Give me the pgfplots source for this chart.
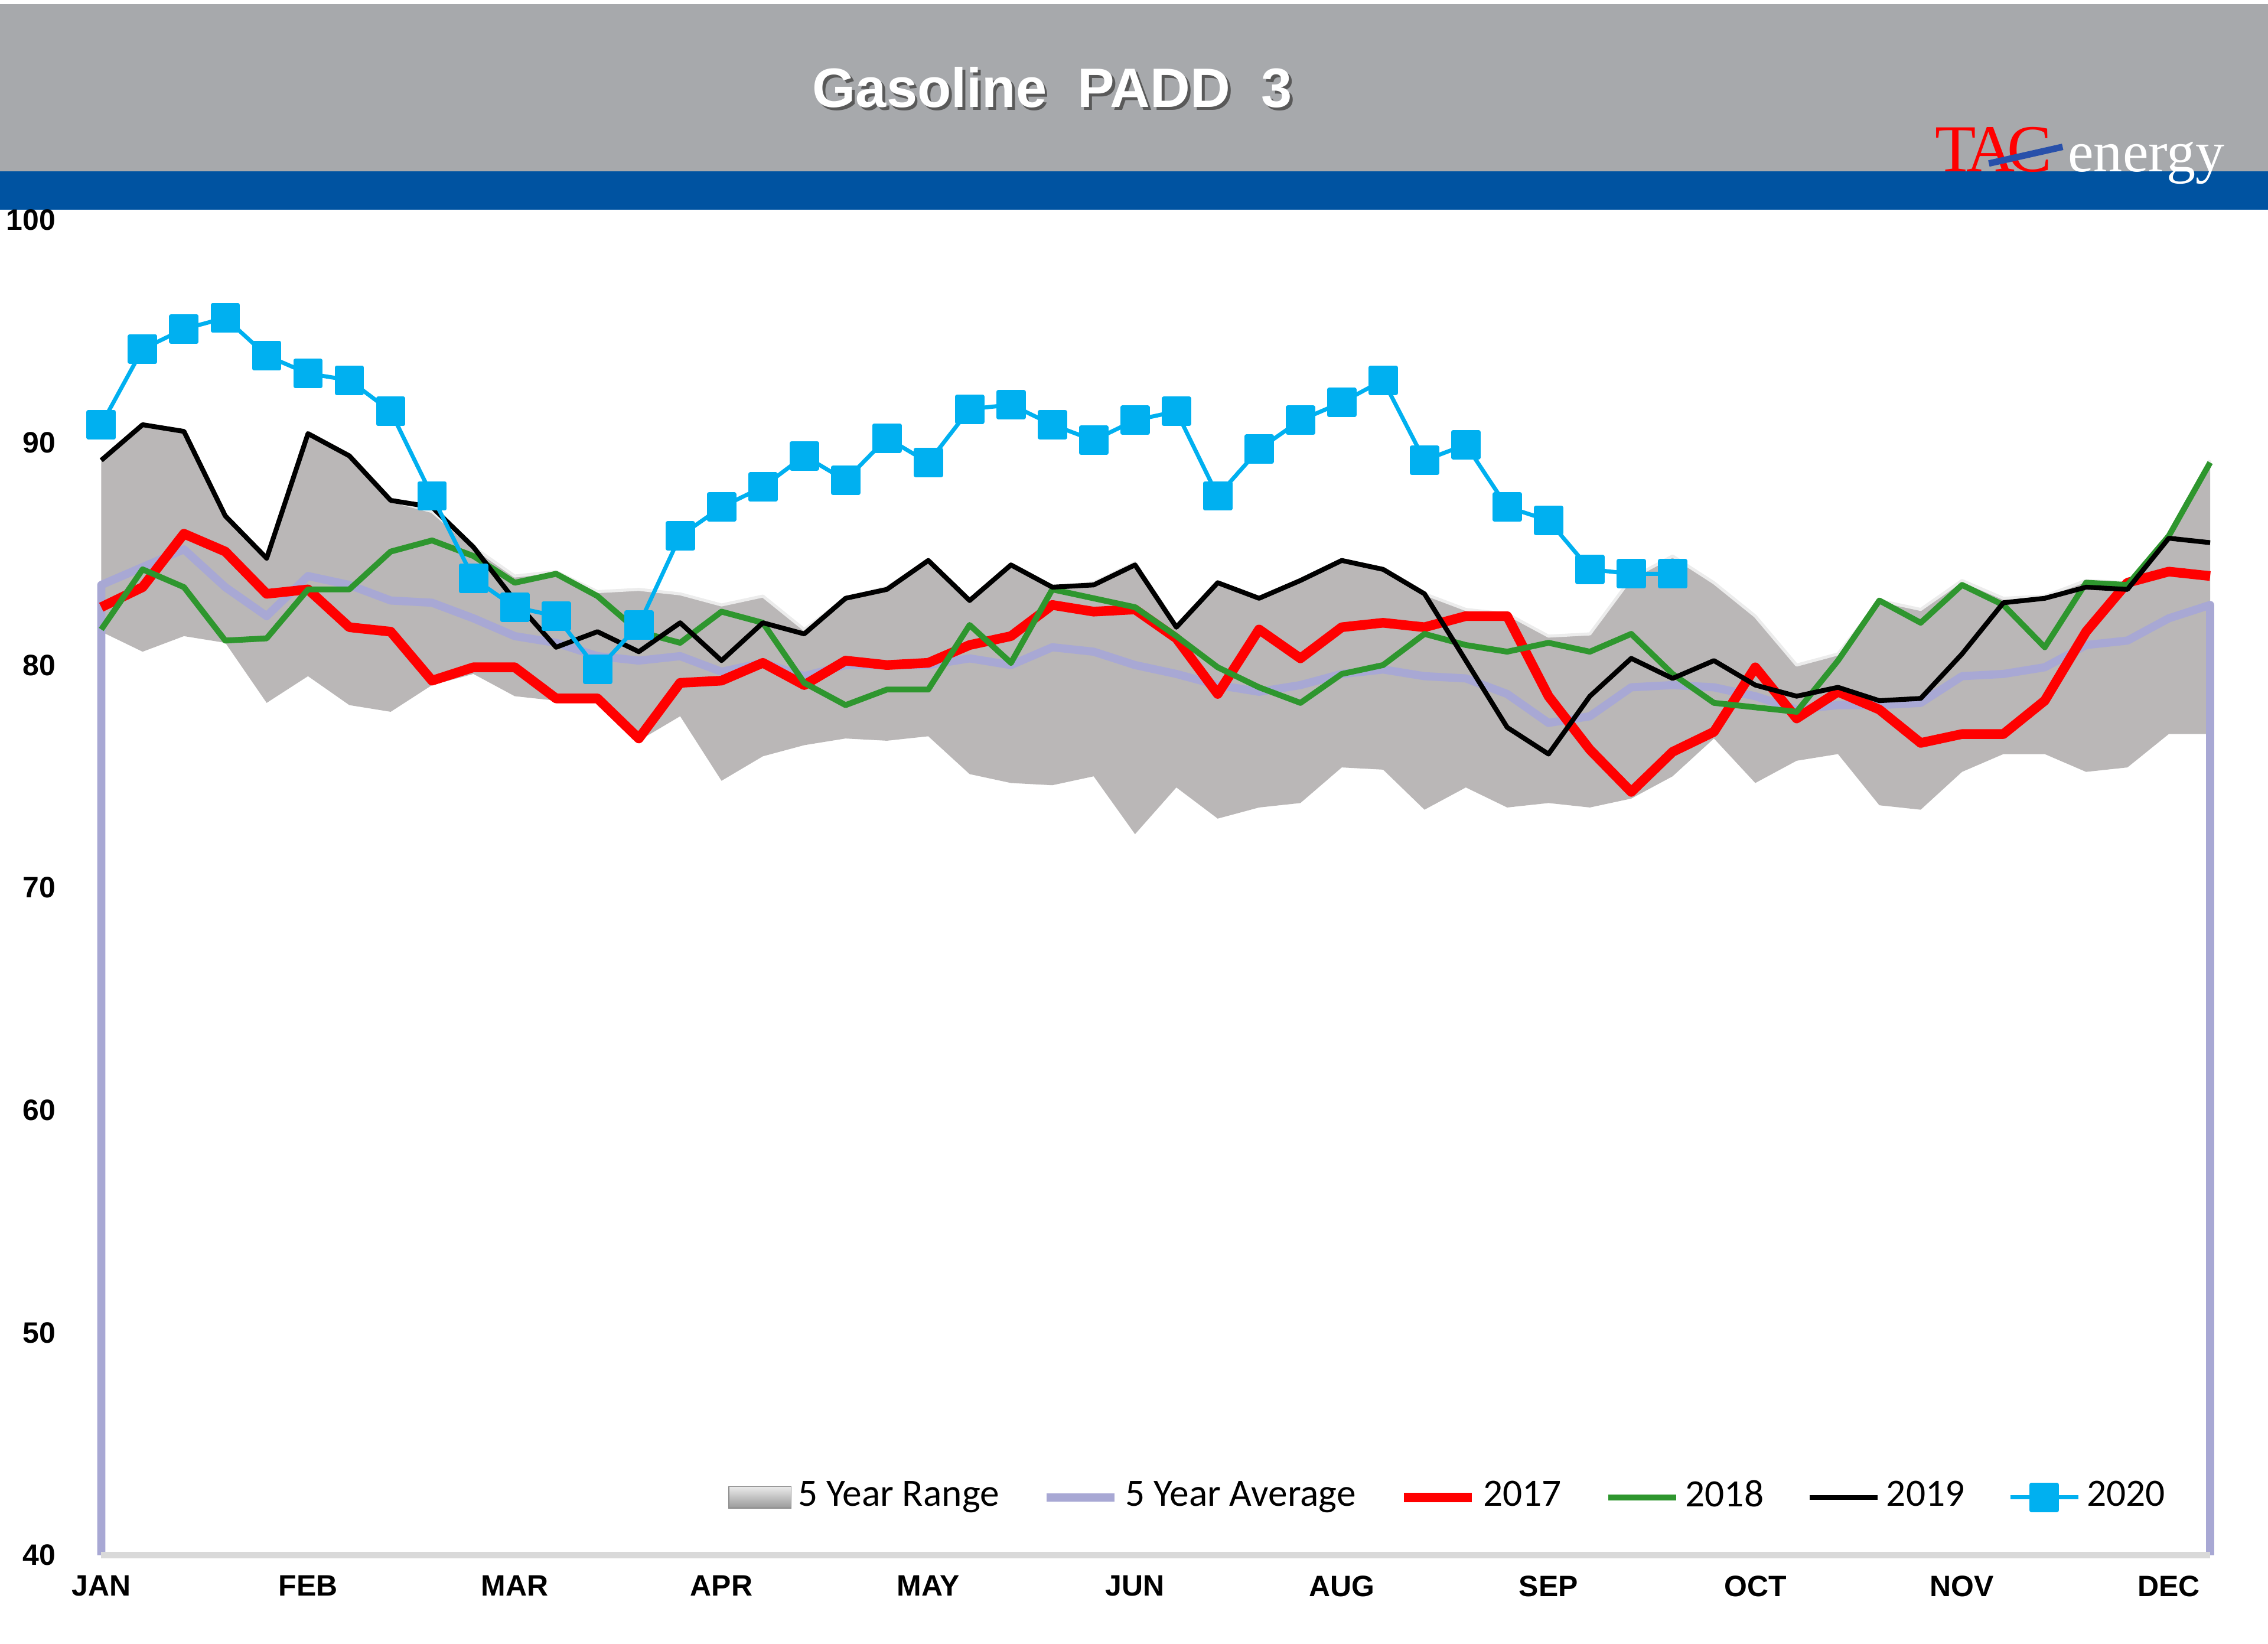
\documentclass[border=0pt]{standalone}
\usepackage{fontspec}
\setmainfont{Liberation Sans}
\newfontfamily\carlito{Carlito}
\newfontfamily\seriflogo{Liberation Serif}
\usepackage{pgfplots}
\usepackage{pgfplotstable}
\pgfplotsset{compat=1.18}
\usepgfplotslibrary{fillbetween}
\definecolor{hdrgray}{RGB}{167,169,172}
\definecolor{hdrblue}{RGB}{0,83,161}
\definecolor{logoblue}{RGB}{40,80,170}
\definecolor{rangegray}{RGB}{186,183,183}
\definecolor{avgcol}{RGB}{168,168,212}
\definecolor{c17}{RGB}{255,0,0}
\definecolor{c18}{RGB}{46,150,46}
\definecolor{c20}{RGB}{0,176,240}

\pgfplotstableread{
w up lo y17 y18 y19
0 89.2 81.5 82.6 81.6 89.2
1 90.8 80.6 83.5 84.3 90.8
2 90.5 81.3 85.9 83.5 90.5
3 86.7 81.0 85.1 81.1 86.7
4 84.8 78.3 83.2 81.2 84.8
5 90.4 79.5 83.4 83.4 90.4
6 89.4 78.2 81.7 83.4 89.4
7 87.4 77.9 81.5 85.1 87.4
8 86.9 79.1 79.3 85.6 87.1
9 85.3 79.6 79.9 84.9 85.3
10 84.0 78.6 79.9 83.7 82.9
11 84.2 78.4 78.5 84.1 80.8
12 83.3 78.3 78.5 83.1 81.5
13 83.4 76.6 76.7 81.5 80.6
14 83.2 77.7 79.2 81.0 81.9
15 82.7 74.8 79.3 82.4 80.2
16 83.1 75.9 80.1 81.9 81.9
17 81.6 76.4 79.1 79.2 81.4
18 83.0 76.7 80.2 78.2 83.0
19 83.5 76.6 80.0 78.9 83.4
20 84.7 76.8 80.1 78.9 84.7
21 82.9 75.1 80.9 81.8 82.9
22 84.5 74.7 81.3 80.1 84.5
23 83.5 74.6 82.7 83.4 83.5
24 83.7 75.0 82.4 83.0 83.6
25 84.6 72.4 82.5 82.6 84.5
26 81.8 74.5 81.2 81.3 81.7
27 83.7 73.1 78.7 79.9 83.7
28 83.0 73.6 81.6 79.0 83.0
29 83.8 73.8 80.3 78.3 83.8
30 84.7 75.4 81.7 79.6 84.7
31 84.3 75.3 81.9 80.0 84.3
32 83.2 73.5 81.7 81.4 83.2
33 82.5 74.5 82.2 80.9 80.2
34 82.3 73.6 82.2 80.6 77.2
35 81.3 73.8 78.6 81.0 76.0
36 81.4 73.6 76.2 80.6 78.6
37 83.9 74.0 74.3 81.4 80.3
38 84.9 75.0 76.1 79.6 79.4
39 83.7 76.7 77.0 78.3 80.2
40 82.2 74.7 79.9 78.1 79.1
41 80.0 75.7 77.6 77.9 78.6
42 80.5 76.0 78.8 80.2 79.0
43 82.9 73.7 78.0 82.9 78.4
44 82.5 73.5 76.5 81.9 78.5
45 83.8 75.2 76.9 83.6 80.5
46 83.0 76.0 76.9 82.7 82.8
47 83.1 76.0 78.4 80.8 83.0
48 83.8 75.2 81.5 83.7 83.5
49 83.7 75.4 83.7 83.6 83.4
50 85.9 76.9 84.2 85.8 85.7
51 89.2 76.9 84.0 89.1 85.5
}\datatab

\pgfplotstableread{
w avg
0 40
0 83.6
1 84.4
2 85.2
3 83.5
4 82.2
5 84.0
6 83.6
7 82.9
8 82.8
9 82.1
10 81.3
11 81.0
12 80.4
13 80.2
14 80.4
15 79.7
16 80.1
17 79.5
18 80.0
19 80.0
20 80.0
21 80.3
22 80.0
23 80.8
24 80.6
25 80.0
26 79.6
27 79.1
28 78.8
29 79.1
30 79.6
31 79.8
32 79.5
33 79.4
34 78.7
35 77.4
36 77.7
37 79.0
38 79.1
39 79.0
40 78.6
41 78.0
42 78.2
43 78.2
44 78.3
45 79.5
46 79.6
47 79.9
48 80.9
49 81.1
50 82.1
51 82.7
51 40
}\avgtab

\pgfplotstableread{
w y20
0 90.8
1 94.2
2 95.1
3 95.6
4 93.9
5 93.1
6 92.8
7 91.4
8 87.6
9 83.9
10 82.6
11 82.2
12 79.8
13 81.8
14 85.8
15 87.1
16 88.0
17 89.4
18 88.3
19 90.2
20 89.1
21 91.5
22 91.7
23 90.8
24 90.1
25 91.0
26 91.4
27 87.6
28 89.7
29 91.0
30 91.8
31 92.8
32 89.2
33 89.9
34 87.1
35 86.5
36 84.3
37 84.1
38 84.1
}\tabtwenty

\begin{document}
\begin{tikzpicture}[x=1cm,y=1cm]
\path (0,0) rectangle (15.68,-11.36);
% header bands
\fill[hdrgray] (0,-0.03) rectangle (15.68,-1.185);
\fill[hdrblue] (0,-1.185) rectangle (15.68,-1.45);
% title with shadow
\node[text=black!65, font=\fontsize{10.9}{13}\selectfont\bfseries, inner sep=0pt] at (7.295,-0.625) {Gasoline\ \ PADD\ \ 3};
\node[text=white, font=\fontsize{10.9}{13}\selectfont\bfseries, inner sep=0pt] at (7.275,-0.605) {Gasoline\ \ PADD\ \ 3};
% logo
\node[anchor=base west, inner sep=0pt, text=c17, font=\seriflogo\fontsize{13.2}{14}\selectfont] at (13.37,-1.185) {T\kern-0.14emA\kern-0.12emC};
\node[anchor=base west, inner sep=0pt, text=white, font=\seriflogo\fontsize{11.4}{13}\selectfont] at (14.29,-1.185) {energy};
\draw[logoblue, line width=0.45mm] (13.75,-1.13) -- (14.26,-1.015);

\begin{axis}[
  at={(0.70cm,-10.75cm)}, anchor=south west,
  scale only axis, width=14.58cm, height=9.23cm,
  xmin=0, xmax=51, ymin=40, ymax=100,
  axis line style={draw=none},
  major tick length=0pt,
  xtick={0,5,...,50},
  xticklabels={JAN,FEB,MAR,APR,MAY,JUN,AUG,SEP,OCT,NOV,DEC},
  ytick={40,50,...,100},
  yticklabels={40,50,60,70,80,90,100},
  xticklabel style={anchor=north, inner sep=0pt, yshift=-1.35mm, font=\fontsize{5.8}{7}\selectfont\bfseries},
  yticklabel style={anchor=east, inner sep=0pt, xshift=-3.1mm, font=\fontsize{5.8}{7}\selectfont\bfseries},
  clip=false,
  legend columns=6,
  legend cell align=left,
  legend style={at={(0.638,0.0433)}, anchor=center, draw=none, fill=none,
    font=\carlito\fontsize{7.6}{9}\selectfont,
    nodes={inner sep=0pt},
    /tikz/every odd column/.append style={column sep=0.45mm},
    /tikz/every even column/.append style={column sep=3.0mm}},
  legend image code/.code={\draw[mark repeat=2, mark phase=2, #1] plot coordinates {(0mm,0mm) (2.35mm,0mm) (4.7mm,0mm)};},
]
\addplot[name path=up, draw=none, forget plot] table[x=w, y=up] {\datatab};
\addplot[name path=lo, draw=none, forget plot] table[x=w, y=lo] {\datatab};
\addplot[fill=rangegray, draw=none,
  legend image code/.code={\fill[top color=black!8, bottom color=black!40, draw=black!45, line width=0.2pt] (0mm,-0.75mm) rectangle (4.3mm,0.75mm);}]
  fill between[of=up and lo];
\addlegendentry{5 Year Range}
\addplot[white!85!gray, line width=0.6pt, line join=round, forget plot] table[x=w, y=up] {\datatab};
\addplot[avgcol, line width=1.6pt, line join=round] table[x=w, y=avg] {\avgtab};
\addlegendentry{5 Year Average}
\addplot[c17, line width=1.9pt, line join=round] table[x=w, y=y17] {\datatab};
\addlegendentry{2017}
\addplot[c18, line width=1.15pt, line join=round] table[x=w, y=y18] {\datatab};
\addlegendentry{2018}
\addplot[black, line width=0.95pt, line join=round] table[x=w, y=y19] {\datatab};
\addlegendentry{2019}
\addplot[c20, line width=0.8pt, line join=round, mark=square*, mark size=2.5pt, mark options={solid, fill=c20, draw=c20}] table[x=w, y=y20] {\tabtwenty};
\addlegendentry{2020}
\draw[black!15, line width=0.45mm] (axis cs:0,40) -- (axis cs:51,40);
\end{axis}
\end{tikzpicture}
\end{document}
